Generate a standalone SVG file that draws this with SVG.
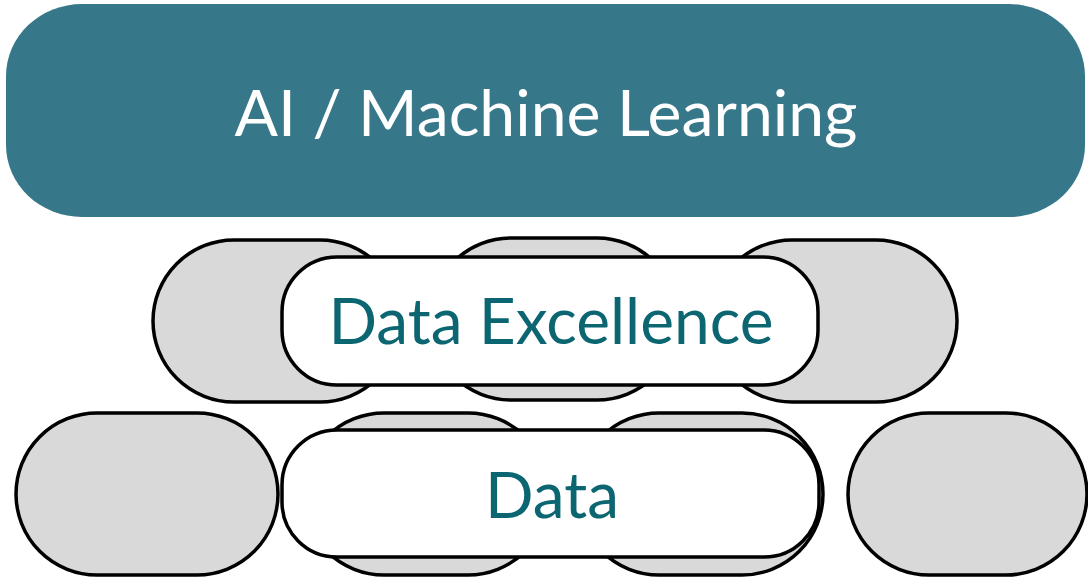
<svg xmlns="http://www.w3.org/2000/svg" width="1088" height="577" viewBox="0 0 1088 577">
<style>
.grey{fill:#d9d9d9;stroke:#000;stroke-width:3.5}
.white{fill:#fff;stroke:#000;stroke-width:3.5}
.lbl{font-family:Lato,"Liberation Sans",sans-serif;text-anchor:middle}
.teal{fill:#0b6671}
</style>
<rect width="1088" height="577" fill="#fff"/>
<g id="ai-ml">
<rect x="6" y="4" width="1079" height="213" rx="76" ry="72" fill="#36788a"/>
<text class="lbl" x="546" y="136" font-size="64.3" fill="#fff">AI / Machine Learning</text>
</g>
<g id="support-mid">
<rect class="grey" x="153" y="240" width="248" height="162" rx="81"/>
<rect class="grey" x="430" y="238" width="248" height="162" rx="81"/>
<rect class="grey" x="711" y="240" width="246" height="162" rx="81"/>
</g>
<g id="data-excellence">
<rect class="white" x="282" y="257" width="536" height="128" rx="55"/>
<text class="lbl teal" x="551" y="344" font-size="64">Data Excellence</text>
</g>
<g id="support-bottom">
<rect class="grey" x="16" y="413" width="262" height="162" rx="81"/>
<rect class="grey" x="303" y="413" width="246" height="162" rx="81"/>
<rect class="grey" x="578" y="413" width="245" height="162" rx="81"/>
<rect class="grey" x="848" y="413" width="239" height="162" rx="81"/>
</g>
<g id="data">
<rect class="white" x="282" y="430" width="537" height="127" rx="55"/>
<text class="lbl teal" x="552" y="518" font-size="64">Data</text>
</g>
<g id="connectors"></g>
</svg>
